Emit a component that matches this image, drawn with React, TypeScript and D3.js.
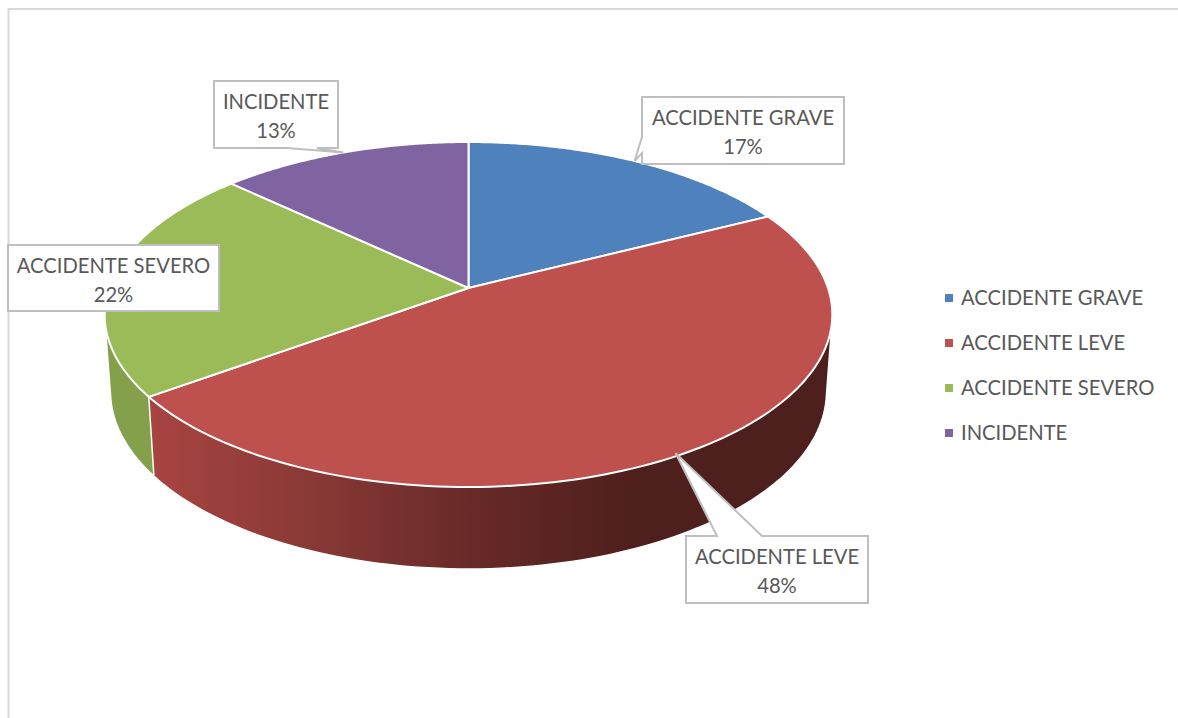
import React from "react";
import * as d3 from "d3";

// ---- data ----
const categories = ["ACCIDENTE GRAVE", "ACCIDENTE LEVE", "ACCIDENTE SEVERO", "INCIDENTE"];
const values = [17.5, 47.5, 22, 13];
const percentLabels = ["17%", "48%", "22%", "13%"];
const colors = ["#4f81bd", "#be504d", "#9bbb59", "#8064a2"];

// ---- layout ----
const W = 1178, H = 718;
const APEX_X = 468.5, APEX_Y = 288;
const RIM_X = 359.5, RIM_TOP = 142, RIM_BOTTOM = 487;
const DEPTH = 82;
const FONT = "Lato, 'Open Sans', sans-serif";
const FS = 20.2;
const TEXT = "#595959";
const BOX = "#bfbfbf";

// perspective: maps the unit circle of the pie to the tilted disc seen in the picture
const C = ((RIM_BOTTOM - APEX_Y) - (APEX_Y - RIM_TOP)) / (RIM_BOTTOM - RIM_TOP);
const A = (RIM_TOP - APEX_Y) + RIM_TOP * C;
const project = (angle: number): [number, number] => {
  const u = Math.sin(angle), v = Math.cos(angle);
  const den = 1 + C * v;
  return [APEX_X + (RIM_X * u) / den, (A * v + APEX_Y) / den];
};
const lower = ([x, y]: [number, number]): [number, number] => [
  APEX_X + (x - APEX_X) * 0.984,
  y + DEPTH - 0.03 * (RIM_BOTTOM - y),
];

const pieGen = d3.pie<number>().sort(null).value((d) => d);
const arcs = pieGen(values);
const samples = (a0: number, a1: number) =>
  d3.range(0, 121).map((i) => project(a0 + ((a1 - a0) * i) / 120));
const line = d3.line<[number, number]>();

const wedgePath = (a0: number, a1: number) =>
  (line([[APEX_X, APEX_Y], ...samples(a0, a1)]) as string) + "Z";
const sidePath = (a0: number, a1: number) => {
  const top = samples(a0, a1);
  const hull = d3.polygonHull([...top, ...top.map(lower)]) as [number, number][];
  return (line(hull) as string) + "Z";
};

// label boxes: x0, y0, x1, y1, callout base on the box and offset of its tip
type Lab = { box: [number, number, number, number]; base?: [[number, number], [number, number]]; tipDx?: number };
const labelLayout: Lab[] = [
  { box: [642, 97, 844, 164], base: [[642, 137], [642, 153]] },
  { box: [686, 536, 868, 603], base: [[717, 536], [762, 536]], tipDx: -9 },
  { box: [8, 245, 219, 311] },
  { box: [214, 81, 338, 148], base: [[287, 148], [317, 148]] },
];

const boxPath = (l: Lab, tip: [number, number]) => {
  const [x0, y0, x1, y1] = l.box;
  const corners: [number, number][] = [[x0, y0], [x1, y0], [x1, y1], [x0, y1]];
  if (!l.base) return (line(corners) as string) + "Z";
  const [b0, b1] = l.base;
  let pts: [number, number][];
  if (b0[1] === y0) pts = [[x0, y0], b0, tip, b1, [x1, y0], [x1, y1], [x0, y1]];
  else if (b0[1] === y1) pts = [[x0, y0], [x1, y0], [x1, y1], b1, tip, b0, [x0, y1]];
  else pts = [[x0, y0], [x1, y0], [x1, y1], [x0, y1], b1, tip, b0];
  return (line(pts) as string) + "Z";
};

const legendY = d3.scalePoint<string>().domain(categories).range([298, 433]);

export default function App() {
  const sideOrder = [3, 0, 2, 1];
  return (
    <svg width={W} height={H} viewBox={`0 0 ${W} ${H}`}
      style={{ position: "absolute", left: 0, top: 0, display: "block", background: "#fff" }}>
      <defs>
        <linearGradient id="side1" gradientUnits="userSpaceOnUse" x1="150" x2="640" y1="0" y2="0">
          <stop offset="0" stopColor="#a84441" />
          <stop offset="0.3" stopColor="#8c3a37" />
          <stop offset="0.65" stopColor="#682a28" />
          <stop offset="1" stopColor="#4d1f1d" />
        </linearGradient>
      </defs>
      <path d={`M8.5 718V9H${W}`} fill="none" stroke="#d9d9d9" strokeWidth={2} />

      {sideOrder.map((i) => (
        <path key={i} d={sidePath(arcs[i].startAngle, arcs[i].endAngle)}
          fill={i === 1 ? "url(#side1)" : i === 2 ? "#84a04b" : colors[i]}
          stroke="#fff" strokeWidth={1.5} strokeLinejoin="round" />
      ))}
      {arcs.map((a, i) => (
        <path key={i} d={wedgePath(a.startAngle, a.endAngle)} fill={colors[i]}
          stroke="#fff" strokeWidth={2} strokeLinejoin="round" />
      ))}

      {labelLayout.map((l, i) => {
        const [tx, ty] = project((arcs[i].startAngle + arcs[i].endAngle) / 2);
        const cx = (l.box[0] + l.box[2]) / 2;
        const y0 = l.box[1];
        return (
          <g key={i}>
            <path d={boxPath(l, [tx + (l.tipDx ?? 0), ty])} fill="#fff" stroke={BOX} strokeWidth={2} />
            <text x={cx} textAnchor="middle" fontFamily={FONT} fontSize={FS} fill={TEXT}>
              <tspan x={cx} y={y0 + 28}>{categories[i]}</tspan>
              <tspan x={cx} y={y0 + 57}>{percentLabels[i]}</tspan>
            </text>
          </g>
        );
      })}

      {categories.map((c, i) => {
        const y = legendY(c) as number;
        return (
          <g key={c}>
            <rect x={945} y={y - 4} width={8} height={8} fill={colors[i]} />
            <text x={961} y={y + 7} fontFamily={FONT} fontSize={FS} fill={TEXT}>{c}</text>
          </g>
        );
      })}
    </svg>
  );
}
